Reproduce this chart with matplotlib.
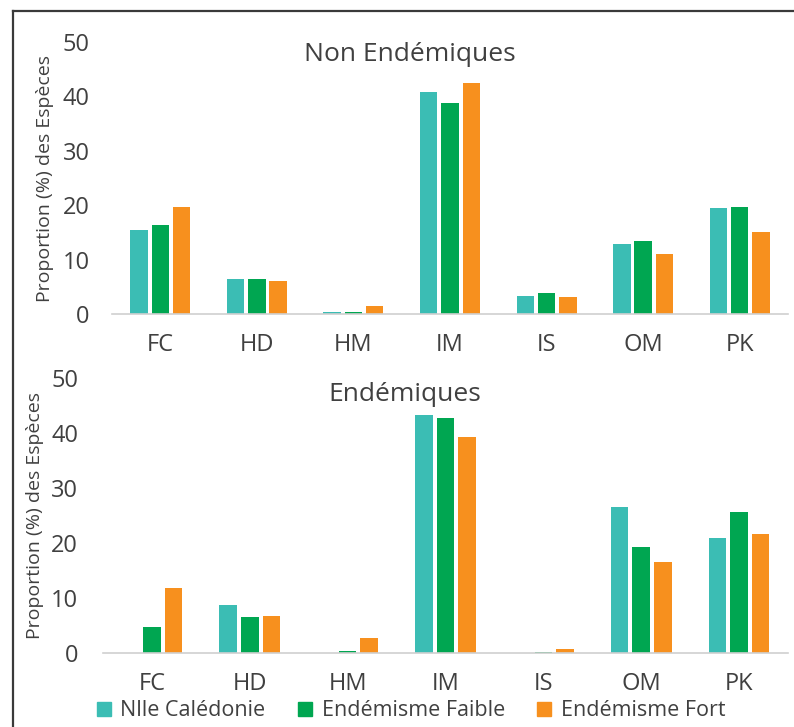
import matplotlib
matplotlib.use("Agg")
import matplotlib.pyplot as plt
import numpy as np
from matplotlib.lines import Line2D
from matplotlib.patches import Patch

plt.rcParams["font.family"] = ["Open Sans", "DejaVu Sans"]

categories = ["FC", "HD", "HM", "IM", "IS", "OM", "PK"]
series_names = ["Nlle Calédonie", "Endémisme Faible", "Endémisme Fort"]
colors = ["#3bbdb4", "#00a651", "#f7901e"]

non_endemic = [
    [15.4, 6.4, 0.4, 40.9, 3.4, 12.9, 19.4],
    [16.3, 6.4, 0.4, 38.8, 3.9, 13.5, 19.7],
    [19.6, 6.1, 1.5, 42.5, 3.2, 11.0, 15.1],
]
endemic = [
    [0.0, 8.8, 0.0, 43.2, 0.05, 26.6, 21.0],
    [4.7, 6.6, 0.4, 42.8, 0.2, 19.3, 25.6],
    [11.9, 6.8, 2.7, 39.3, 0.8, 16.6, 21.6],
]

W, H = 794, 727
TEXT = "#404040"


def config_ax(ax, data, title, title_y, ypad, labelpad):
    x = np.arange(len(categories))
    for i, (vals, c) in enumerate(zip(data, colors)):
        ax.bar(x + (i - 1) * 0.22, vals, width=0.18, color=c, label=series_names[i])
    ax.set_xlim(-0.5, len(categories) - 0.5)
    ax.set_ylim(0, 50)
    ax.set_yticks([0, 10, 20, 30, 40, 50])
    ax.set_xticks(x)
    ax.set_xticklabels(categories)
    for s in ("top", "right", "left"):
        ax.spines[s].set_visible(False)
    ax.spines["bottom"].set_color("#d0d0d0")
    ax.spines["bottom"].set_linewidth(1.2)
    ax.tick_params(axis="both", length=0, labelsize=17, colors=TEXT)
    ax.tick_params(axis="x", pad=14)
    ax.tick_params(axis="y", pad=ypad)
    ax.set_ylabel("Proportion (%) des Espèces", fontsize=14, color=TEXT, labelpad=labelpad)
    ax.text(0.44, title_y, title, transform=ax.transAxes, ha="center", va="center",
            fontsize=19, color=TEXT)


fig = plt.figure(figsize=(W / 100, H / 100), dpi=100)

ax_top = fig.add_axes([112 / W, (H - 314) / H, 676 / W, 272 / H])
config_ax(ax_top, non_endemic, "Non Endémiques", 0.955, 16, 6)

ax_bot = fig.add_axes([103 / W, (H - 653) / H, 685 / W, 275 / H])
config_ax(ax_bot, endemic, "Endémiques", 0.94, 18, 5)

handles = [Patch(color=c, label=n) for c, n in zip(colors, series_names)]
fig.legend(handles=handles, loc="center", bbox_to_anchor=(411 / W, (H - 711) / H),
           ncol=3, frameon=False, fontsize=15.5, handlelength=0.65, handleheight=0.65,
           handletextpad=0.45, columnspacing=1.5, labelcolor=TEXT)

# border of the original figure frame
fig.add_artist(Line2D([12.5 / W, 12.5 / W], [0, (H - 11) / H], color="#3a3a3a", lw=1.6))
fig.add_artist(Line2D([12.5 / W, 1], [(H - 11) / H, (H - 11) / H], color="#3a3a3a", lw=1.6))

fig.savefig("out.png", dpi=100)
